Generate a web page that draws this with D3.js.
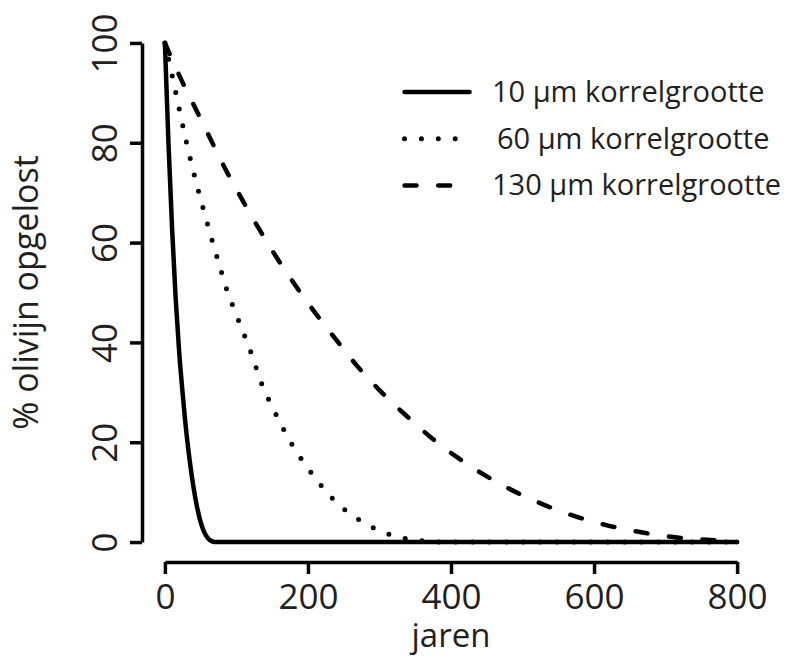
<!DOCTYPE html>
<html>
<head>
<meta charset="utf-8">
<script src="https://cdn.jsdelivr.net/npm/d3@7"></script>
<style>
  body { margin: 0; background: #fff; }
  text { font-family: "Open Sans", "Noto Sans", sans-serif; fill: #231f20; }
</style>
</head>
<body>
<svg id="chart" width="796" height="657"></svg>
<script>
// values (jaren, % olivijn)
const years10 = [0, 5, 10, 15, 20, 25, 30, 35, 40, 45, 50, 55, 60, 65, 70, 800];
const pct10 = [100, 80, 63, 49, 38, 29.5, 22, 16, 11, 7, 4, 2, 0.8, 0.2, 0, 0];

const years60 = [0, 10, 20, 30, 41, 53, 66, 79, 86, 100, 120, 135, 155, 177, 204, 233, 270, 312, 359, 382, 800];
const pct60 = [100, 93.6, 86.8, 80.2, 73.6, 67.1, 60.5, 54.1, 50.8, 45.5, 38.1, 31.8, 25.7, 19.7, 14, 8.9, 4.6, 1.6, 0.26, 0, 0];

const years130 = [0, 22.7, 43.7, 64.6, 85.8, 108.4, 132.3, 157.2, 183.5, 210.7, 239.6, 269.3, 301.6, 335.3, 371.6, 408.4, 448.3, 489.3, 532.7, 577, 622.3, 668, 716, 763, 800];
const pct130 = [100, 92.7, 86.6, 80.5, 74.4, 68.5, 62.6, 56.8, 51.2, 45.8, 40.5, 35.2, 30.2, 25.6, 21.0, 17.0, 13.3, 10.1, 7.3, 5.0, 3.2, 1.9, 0.9, 0.4, 0];

const seriesLabels = ['10 µm korrelgrootte', '60 µm korrelgrootte', '130 µm korrelgrootte'];
const xTicks = [0, 200, 400, 600, 800];
const yTicks = [0, 20, 40, 60, 80, 100];

const svg = d3.select('#chart');

// R style: 4% padding around the data range
const x = d3.scaleLinear().domain([-32, 832]).range([142, 760]);
const y = d3.scaleLinear().domain([-4, 104]).range([562, 23]);

const dashStyles = [null, '0,16.9', '12,21.7'];

const series = [
  years10.map((t, i) => [t, pct10[i]]),
  years60.map((t, i) => [t, pct60[i]]),
  years130.map((t, i) => [t, pct130[i]])
];

// axes only span the tick range, like base R
const xAxisScale = x.copy().domain([0, 800]).range([x(0), x(800)]);
const yAxisScale = y.copy().domain([0, 100]).range([y(0), y(100)]);

const gx = svg.append('g')
  .attr('transform', `translate(0,${y(-4)})`)
  .call(d3.axisBottom(xAxisScale).tickValues(xTicks).tickSizeInner(12).tickSizeOuter(0).tickFormat(d3.format('d')));

gx.selectAll('text')
  .attr('y', 47)
  .attr('dy', 0)
  .style('font-size', '35px');

const gy = svg.append('g')
  .attr('transform', `translate(${x(-32)},0)`)
  .call(d3.axisLeft(yAxisScale).tickValues(yTicks).tickSizeInner(12).tickSizeOuter(0).tickFormat(d3.format('d')));

gy.selectAll('text')
  .attr('x', 0)
  .attr('dy', 0)
  .attr('text-anchor', 'middle')
  .attr('transform', 'translate(-25,0) rotate(-90)')
  .style('font-size', '35px');

svg.selectAll('.domain, .tick line')
  .attr('stroke', '#000')
  .attr('stroke-width', 3.5);
svg.selectAll('.tick text').attr('fill', '#231f20');

// curves
const line = d3.line()
  .x(d => x(d[0]))
  .y(d => y(d[1]))
  .curve(d3.curveMonotoneX);

svg.append('g')
  .selectAll('path')
  .data(series)
  .join('path')
  .attr('d', line)
  .attr('fill', 'none')
  .attr('stroke', '#000')
  .attr('stroke-width', (d, i) => i === 1 ? 5 : 4.5)
  .attr('stroke-linecap', 'round')
  .attr('stroke-linejoin', 'round')
  .attr('stroke-dasharray', (d, i) => dashStyles[i]);

// axis titles
svg.append('text')
  .attr('x', (x.range()[0] + x.range()[1]) / 2)
  .attr('y', 647)
  .attr('text-anchor', 'middle')
  .style('font-size', '33px')
  .text('jaren');

svg.append('text')
  .attr('transform', `translate(38,${(y.range()[0] + y.range()[1]) / 2}) rotate(-90)`)
  .attr('text-anchor', 'middle')
  .style('font-size', '34px')
  .text('% olivijn opgelost');

// legend
const legend = svg.append('g');
const rows = legend.selectAll('g')
  .data(seriesLabels)
  .join('g')
  .attr('transform', (d, i) => `translate(0,${92 + i * 46.7})`);

rows.append('line')
  .attr('x1', 404.5)
  .attr('x2', 469.5)
  .attr('stroke', '#000')
  .attr('stroke-width', (d, i) => i === 1 ? 5 : 4.5)
  .attr('stroke-linecap', 'round')
  .attr('stroke-dasharray', (d, i) => dashStyles[i]);

rows.append('text')
  .attr('x', (d, i) => i === 1 ? 497 : 492)
  .attr('y', 10)
  .style('font-size', '29px')
  .text(d => d);
</script>
</body>
</html>
